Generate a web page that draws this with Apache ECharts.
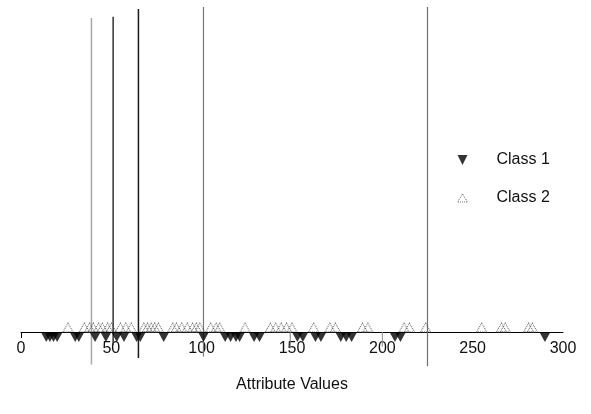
<!DOCTYPE html>
<html>
<head>
<meta charset="utf-8">
<script src="https://cdn.jsdelivr.net/npm/echarts@6/dist/echarts.min.js"></script>
<style>
html,body{margin:0;padding:0;background:#fff;}
#chart{width:591px;height:414px;}
</style>
</head>
<body>
<div id="chart"></div>
<script>
// ---- data ----
var xTicks = [0, 50, 100, 150, 200, 250, 300];
var class1Values = [14,16,18,20,30,32,41,47,53,57,64,66,79,101,113,116,119,121,129,132,153,156,163,166,177,180,183,207,210,290];
var class2Values = [26,35,38,40,43,45,48,50,55,58,61,68,70,72,74,76,84,86,89,92,95,97,99,105,108,110,124,138,141,144,147,150,162,171,174,189,192,212,215,224,255,266,268,281,283];
// split (threshold) lines: x position, top and bottom extent (relative height units)
var splitX      = [39, 51, 65, 101, 225, 149, 200];
var splitTop    = [96.6, 97, 99.4, 100, 100, 0, 0];
var splitBottom = [-10, -4, -8, -7.5, -10.5, -5, -4.5];
var splitColors = ['#a8a8a8', '#333333', '#1a1a1a', '#7a7a7a', '#707070', '#777777', '#888888'];
var splitWidths = [1.5, 1.5, 1.5, 1.2, 1.2, 1, 1];

var chart = echarts.init(document.getElementById('chart'), null, {renderer: 'canvas'});
var font = 'Liberation Sans, Arial, Helvetica, sans-serif';

var downTri = 'path://M0,0 L10,0 L5,10 Z';
var upTri = 'path://M5,0 L10,8 L0,8 Z';

var series = [];
splitX.forEach(function (x, i) {
  series.push({
    type: 'line',
    silent: true,
    showSymbol: false,
    symbol: 'none',
    clip: false,
    data: [[x, splitBottom[i]], [x, splitTop[i]]],
    lineStyle: {color: splitColors[i], width: splitWidths[i]},
    z: 1
  });
});
series.push({
  name: 'Class 2',
  type: 'scatter',
  symbol: upTri,
  symbolSize: [10, 9],
  symbolOffset: [0, -4.5],
  clip: false,
  data: class2Values.map(function (v) { return [v, 0]; }),
  itemStyle: {color: 'rgba(255,255,255,0)', borderColor: '#444', borderWidth: 1, borderType: 'dotted'},
  z: 3
});
series.push({
  name: 'Class 1',
  type: 'scatter',
  symbol: downTri,
  symbolSize: [11, 10],
  symbolOffset: [0, 5],
  clip: false,
  data: class1Values.map(function (v) { return [v, 0]; }),
  itemStyle: {color: '#000'},
  z: 4
});

chart.setOption({
  animation: false,
  backgroundColor: '#fff',
  grid: {left: 21, right: 28, top: 7, bottom: 82, containLabel: false, outerBoundsMode: 'none'},
  legend: {
    orient: 'vertical',
    left: 452,
    top: 147,
    itemWidth: 10,
    itemHeight: 10,
    itemGap: 22,
    data: [
      {name: 'Class 1', icon: downTri, itemStyle: {color: '#000', borderWidth: 0}},
      {name: 'Class 2', icon: upTri, itemStyle: {color: 'rgba(255,255,255,0)', borderColor: '#444', borderWidth: 1, borderType: 'dotted'}}
    ],
    textStyle: {fontFamily: font, fontSize: 16, color: '#111', padding: [0, 0, 0, 24]}
  },
  xAxis: {
    type: 'value',
    min: 0,
    max: 300,
    interval: 50,
    name: 'Attribute Values',
    nameLocation: 'middle',
    nameGap: 45,
    nameTextStyle: {fontFamily: font, fontSize: 16, color: '#111'},
    axisLine: {onZero: false, lineStyle: {color: '#000', width: 1}},
    axisTick: {show: true, length: 6, customValues: [0], lineStyle: {color: '#000'}},
    axisLabel: {
      fontFamily: font, fontSize: 16, color: '#111', margin: 9,
      customValues: xTicks
    },
    splitLine: {show: false}
  },
  yAxis: {
    type: 'value',
    min: 0,
    max: 100,
    show: false,
    splitLine: {show: false}
  },
  series: series
});
</script>
</body>
</html>
